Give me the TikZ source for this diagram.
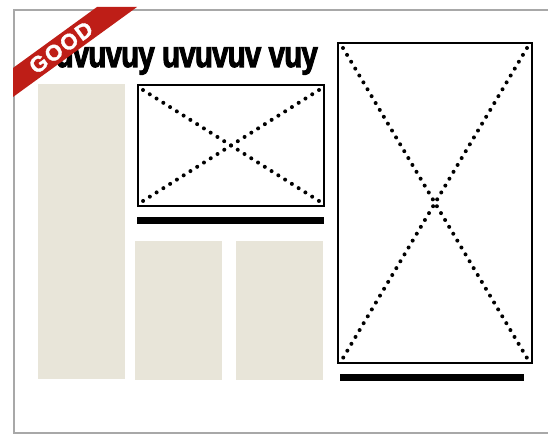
\documentclass[tikz,border=0pt]{standalone}
\usepackage{fontspec}
\setmainfont{Liberation Sans}
\newfontfamily\headfont[FakeBold=3]{Liberation Sans Bold}
\newfontfamily\badgefont[FakeBold=1.5]{Liberation Sans Bold}
\definecolor{beige}{HTML}{E8E5D9}
\definecolor{ribbonred}{HTML}{BE1E17}
\definecolor{framegray}{HTML}{A8A8A8}
\begin{document}
\begin{tikzpicture}[x=1pt,y=-1pt,
  col/.style={fill=beige,draw=none},
  imgbox/.style={draw=black,line width=2pt},
  dotline/.style={line width=4pt,line cap=round,dash pattern=on 0pt off 8pt},
  capbar/.style={fill=black,draw=none}]
\useasboundingbox (0,0) rectangle (548,435);
% page frame
\draw[framegray,line width=1.4pt] (549,10) -- (14,10) -- (14,433) -- (549,433);
% text columns
\path[col] (38,84) rectangle (125,379);
\path[col] (135,241) rectangle (222,380);
\path[col] (236,241) rectangle (323,380);
% small image
\draw[imgbox] (138,85) rectangle (324,206);
\coordinate (s1) at (143,90); \coordinate (s2) at (319,201);
\coordinate (s3) at (319,90); \coordinate (s4) at (143,201);
\draw[dotline] (s1) -- (s2);
\draw[dotline] (s3) -- (s4);
\path[capbar] (137,217) rectangle (324,224);
% big image
\draw[imgbox] (338,43) rectangle (532,363);
\coordinate (b1) at (343,48); \coordinate (b2) at (527,358);
\coordinate (b3) at (527,48); \coordinate (b4) at (343,358);
\draw[dotline] (b1) -- (b2);
\draw[dotline] (b3) -- (b4);
\path[capbar] (340,374) rectangle (524,381);
% headline
\node (title) [anchor=base east,inner sep=0pt,xscale=0.8] at (318,67)
  {\fontsize{37}{37}\selectfont\headfont\addfontfeature{LetterSpace=-3}uvuvuy uvuvuv vuy};
% ribbon
\fill[ribbonred] (97,7) -- (137,7) -- (13,97) -- (13,68) -- cycle;
\node (good) [rotate=36,text=white,inner sep=0pt] at (61,47.5)
  {\fontsize{22}{22}\selectfont\badgefont\addfontfeature{LetterSpace=8}GOOD};
\end{tikzpicture}
\end{document}
